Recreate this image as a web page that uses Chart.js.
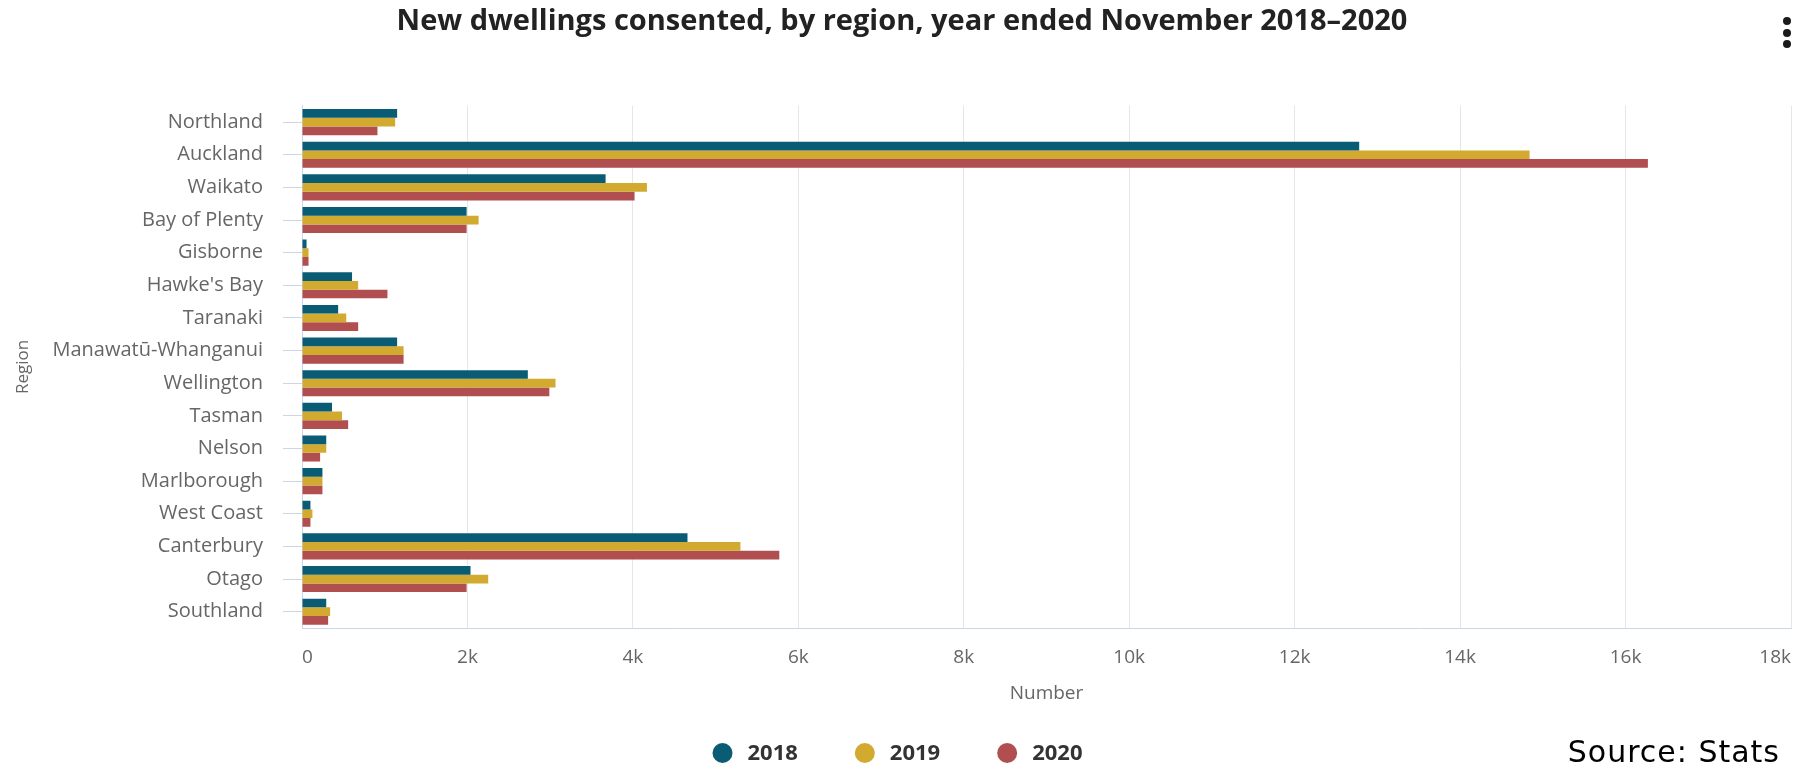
<!DOCTYPE html>
<html>
<head>
<meta charset="utf-8">
<script src="https://cdn.jsdelivr.net/npm/chart.js@4.4.1/dist/chart.umd.min.js"></script>
<style>
  html, body { margin: 0; padding: 0; background: #fff; overflow: hidden; }
  #wrap { position: relative; width: 1795px; height: 767px; }
  #source {
    position: absolute; right: 15px; bottom: 0px;
    font-family: "DejaVu Sans", sans-serif; font-size: 30px; color: #000;
    letter-spacing: 1px; line-height: 30px;
  }
  .dot { position: absolute; left: 1783px; width: 8px; height: 8px; border-radius: 50%; background: #1a1a1a; }
</style>
</head>
<body>
<div id="wrap">
  <canvas id="chart"></canvas>
  <div class="dot" style="top:17px"></div>
  <div class="dot" style="top:29px"></div>
  <div class="dot" style="top:40px"></div>
  <div id="source">Source: Stats</div>
</div>
<script>
// regions, top to bottom
const regions = [
  "Northland", "Auckland", "Waikato", "Bay of Plenty", "Gisborne", "Hawke's Bay",
  "Taranaki", "Manawatū-Whanganui", "Wellington", "Tasman", "Nelson", "Marlborough",
  "West Coast", "Canterbury", "Otago", "Southland"
];

// new dwellings consented, year ended November
const y2018 = [1150, 12780, 3670, 1990, 55, 605, 437, 1150, 2730, 363, 293, 247, 102, 4660, 2037, 293];
const y2019 = [1126, 14840, 4170, 2135, 79, 679, 535, 1228, 3065, 484, 293, 247, 126, 5300, 2251, 340];
const y2020 = [912, 16270, 4020, 1990, 79, 1033, 679, 1228, 2990, 558, 219, 247, 102, 5770, 1990, 316];

const seriesNames = ["2018", "2019", "2020"];
const seriesColors = ["#0a5c74", "#d2aa2f", "#b04e50"];

const xMax = 18000;
const xStep = 2000;

const FONT = "'Open Sans', sans-serif";

// legend drawn under the axis, centred
const bottomLegend = {
  id: "bottomLegend",
  afterDraw(chart) {
    const ctx = chart.ctx;
    ctx.save();
    ctx.font = "bold 22px " + FONT;
    ctx.textBaseline = "middle";
    const r = 10, gap = 15, itemGap = 57;
    const items = chart.data.datasets.map(ds => ({
      label: ds.label, color: ds.backgroundColor, w: ctx.measureText(ds.label).width
    }));
    let total = 0;
    items.forEach(it => { total += 2 * r + gap + it.w; });
    total += itemGap * (items.length - 1);
    let x = chart.width / 2 - total / 2;
    const y = chart.height - 14;
    items.forEach(it => {
      ctx.fillStyle = it.color;
      ctx.beginPath();
      ctx.arc(x + r, y, r, 0, Math.PI * 2);
      ctx.fill();
      ctx.fillStyle = "#333";
      ctx.fillText(it.label, x + 2 * r + gap, y + 1);
      x += 2 * r + gap + it.w + itemGap;
    });
    ctx.restore();
  }
};

const ctx = document.getElementById("chart").getContext("2d");
const chart = new Chart(ctx, {
  type: "bar",
  data: {
    labels: regions,
    datasets: [
      { label: seriesNames[0], data: y2018, backgroundColor: seriesColors[0] },
      { label: seriesNames[1], data: y2019, backgroundColor: seriesColors[1] },
      { label: seriesNames[2], data: y2020, backgroundColor: seriesColors[2] }
    ]
  },
  options: {
    indexAxis: "y",
    responsive: true,
    maintainAspectRatio: false,
    animation: false,
    layout: {
      padding: { left: 13, right: 4, top: 0, bottom: 62 }
    },
    datasets: {
      bar: { categoryPercentage: 0.8, barPercentage: 1.0, borderWidth: 0 }
    },
    plugins: {
      legend: { display: false },
      tooltip: { enabled: false },
      title: {
        display: true,
        text: "New dwellings consented, by region, year ended November 2018–2020",
        color: "#222",
        font: { family: FONT, size: 29, weight: "bold" },
        padding: { top: 4, bottom: 67 }
      }
    },
    scales: {
      x: {
        min: 0,
        max: xMax,
        grid: { color: "#e6e6e6", drawTicks: false },
        border: { color: "#ccd6eb", width: 1 },
        ticks: {
          stepSize: xStep,
          padding: 18,
          align: "inner",
          color: "#666",
          font: { family: FONT, size: 19 },
          callback: v => (v === 0 ? "0" : v / 1000 + "k")
        },
        title: {
          display: true,
          text: "Number",
          color: "#666",
          font: { family: FONT, size: 19 },
          padding: { top: 13, bottom: 0 }
        },
        afterFit(scale) {
          scale.height = 77;
          scale.paddingRight = 0;
        }
      },
      y: {
        grid: { drawOnChartArea: false, drawTicks: true, tickLength: 19, color: "#ccd6eb", offset: false },
        border: { color: "#ccd6eb", width: 1 },
        ticks: {
          padding: 20,
          color: "#666",
          font: { family: FONT, size: 20 },
          autoSkip: false
        },
        title: {
          display: true,
          text: "Region",
          color: "#666",
          font: { family: FONT, size: 17 },
          padding: 0
        },
        afterFit(scale) { scale.width = 289; }
      }
    }
  },
  plugins: [bottomLegend]
});
</script>
</body>
</html>
